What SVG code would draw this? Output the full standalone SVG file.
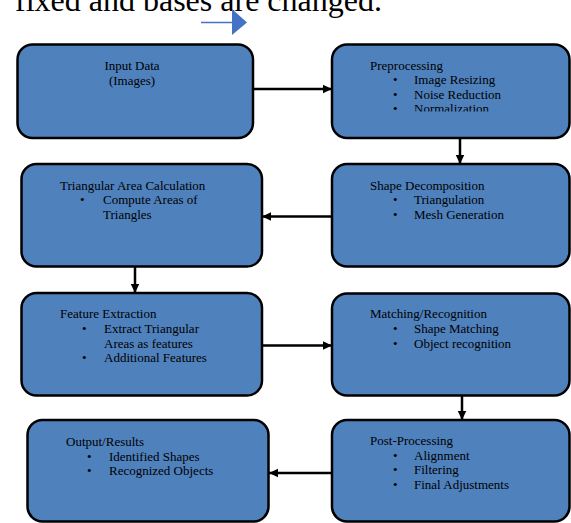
<svg xmlns="http://www.w3.org/2000/svg" width="571" height="523" viewBox="0 0 571 523">
<style>
.box{fill:#4f81bd;stroke:#000;stroke-width:2.5}
.t{font-family:"Liberation Serif","Times New Roman",serif;font-size:13px;fill:#000}
.c{stroke:#000;stroke-width:2.5;fill:none;marker-end:url(#ah)}
</style>
<defs>
<marker id="ah" markerWidth="4" markerHeight="4" refX="3.6" refY="2" orient="auto" markerUnits="strokeWidth">
<path d="M0,0.3 L3.6,2 L0,3.7 Z" fill="#000"/>
</marker>
<clipPath id="clipPre"><rect x="332" y="44" width="238" height="67.5"/></clipPath>
</defs>
<rect width="571" height="523" fill="#fff"/>
<text x="15" y="11" style="font-family:'Liberation Serif','Times New Roman',serif;font-size:32px;fill:#000">fixed and bases are changed.</text>
<g id="blue-arrow">
<line x1="201" y1="22.5" x2="233" y2="22.5" stroke="#4472c4" stroke-width="1.5"/>
<path d="M232,9 L247,22.5 L232,35 Z" fill="#4472c4"/>
</g>
<g id="connectors">
<line class="c" x1="253" y1="89" x2="332" y2="89"/>
<line class="c" x1="460" y1="138" x2="460" y2="164"/>
<line class="c" x1="332" y1="216.5" x2="262" y2="216.5"/>
<line class="c" x1="135" y1="267" x2="135" y2="293"/>
<line class="c" x1="262" y1="345.5" x2="332" y2="345.5"/>
<line class="c" x1="462" y1="396" x2="462" y2="420"/>
<line class="c" x1="332" y1="473" x2="269" y2="473"/>
</g>
<g id="input">
<rect class="box" x="17.5" y="44.5" width="235.5" height="93.5" rx="15"/>
<text class="t" x="132" y="70" text-anchor="middle">Input Data</text>
<text class="t" x="132" y="85" text-anchor="middle">(Images)</text>
</g>
<g id="preprocessing">
<rect class="box" x="332" y="44.5" width="237.5" height="93.5" rx="15"/>
<g clip-path="url(#clipPre)">
<text class="t" x="370" y="70">Preprocessing</text>
<text class="t" x="393" y="84">•</text><text class="t" x="414" y="84">Image Resizing</text>
<text class="t" x="393" y="98.5">•</text><text class="t" x="414" y="98.5">Noise Reduction</text>
<text class="t" x="393" y="113">•</text><text class="t" x="414" y="113">Normalization</text>
</g>
</g>
<g id="shape-decomposition">
<rect class="box" x="332" y="164" width="237.5" height="102.5" rx="15"/>
<text class="t" x="370" y="190">Shape Decomposition</text>
<text class="t" x="393" y="204">•</text><text class="t" x="414" y="204">Triangulation</text>
<text class="t" x="393" y="218.5">•</text><text class="t" x="414" y="218.5">Mesh Generation</text>
</g>
<g id="triangular-area">
<rect class="box" x="21.5" y="164" width="240.5" height="102.5" rx="15"/>
<text class="t" x="60" y="190">Triangular Area Calculation</text>
<text class="t" x="80" y="204">•</text><text class="t" x="103" y="204">Compute Areas of</text>
<text class="t" x="103" y="218.5">Triangles</text>
</g>
<g id="feature-extraction">
<rect class="box" x="21.5" y="293" width="240.5" height="102.5" rx="15"/>
<text class="t" x="60" y="318">Feature Extraction</text>
<text class="t" x="82" y="333">•</text><text class="t" x="104" y="333">Extract Triangular</text>
<text class="t" x="104" y="347.5">Areas as features</text>
<text class="t" x="82" y="362">•</text><text class="t" x="104" y="362">Additional Features</text>
</g>
<g id="matching">
<rect class="box" x="332" y="293.5" width="237.5" height="102" rx="15"/>
<text class="t" x="370" y="318">Matching/Recognition</text>
<text class="t" x="393" y="333">•</text><text class="t" x="414" y="333">Shape Matching</text>
<text class="t" x="393" y="347.5">•</text><text class="t" x="414" y="347.5">Object recognition</text>
</g>
<g id="post-processing">
<rect class="box" x="332" y="420" width="237.5" height="101.5" rx="15"/>
<text class="t" x="370" y="445">Post-Processing</text>
<text class="t" x="393" y="459.5">•</text><text class="t" x="414" y="459.5">Alignment</text>
<text class="t" x="393" y="474">•</text><text class="t" x="414" y="474">Filtering</text>
<text class="t" x="393" y="488.5">•</text><text class="t" x="414" y="488.5">Final Adjustments</text>
</g>
<g id="output">
<rect class="box" x="27.5" y="420" width="241" height="101.5" rx="15"/>
<text class="t" x="66" y="446">Output/Results</text>
<text class="t" x="87" y="460.5">•</text><text class="t" x="109" y="460.5">Identified Shapes</text>
<text class="t" x="87" y="475">•</text><text class="t" x="109" y="475">Recognized Objects</text>
</g>
</svg>
